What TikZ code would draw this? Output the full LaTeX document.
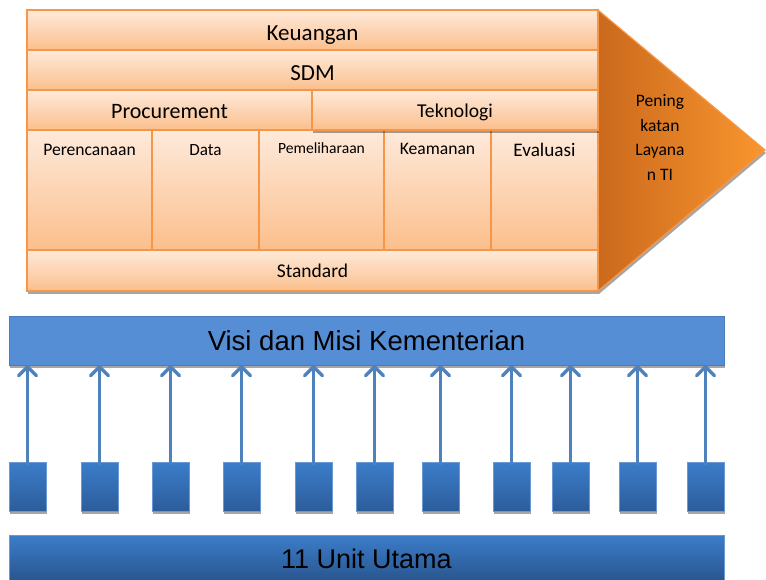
\documentclass[tikz,border=0pt]{standalone}
\usepackage{fontspec}
\usepackage{tikz}
\usetikzlibrary{positioning,arrows.meta,shadows}
\newfontfamily\calibri{Carlito}
\newfontfamily\arial{Liberation Sans}
\definecolor{peachtop}{HTML}{FEEADB}
\definecolor{peachbot}{HTML}{FBBF8C}
\definecolor{orangeline}{HTML}{F79646}
\definecolor{chevdark}{HTML}{CB691D}
\definecolor{chevlight}{HTML}{F9962E}
\definecolor{visiblue}{HTML}{558ED5}
\definecolor{visiline}{HTML}{4A7EBB}
\definecolor{unittop}{HTML}{3C7DCA}
\definecolor{unitbot}{HTML}{2C5D9B}
\definecolor{unitline}{HTML}{6A9AD4}
\definecolor{arrowblue}{HTML}{4F81BD}

\begin{document}
\begin{tikzpicture}[x=1pt, y=-1pt,
  shdw/.style={drop shadow={shadow xshift=1pt, shadow yshift=-3pt, fill=black, opacity=0.35}},
  cell/.style={draw=orangeline, line width=1.2pt, top color=peachtop, bottom color=peachbot,
    anchor=north west, inner sep=0pt, outer sep=0pt, shdw},
  wide/.style={cell, minimum width=571pt},
  col/.style={cell, minimum height=120pt, text height=26pt, text depth=94pt,
    font=\calibri\fontsize{#1}{20}\selectfont},
  unit/.style={draw=unitline, line width=0.8pt, top color=unittop, bottom color=unitbot,
    anchor=north west, inner sep=0pt, outer sep=0pt, minimum width=37pt, minimum height=49pt, shdw},
  arr/.style={draw=arrowblue, line width=3.5pt,
    -{Straight Barb[length=9pt, width=18pt, line width=3.5pt, round]}}]
\useasboundingbox (0,0) rectangle (766,580);

\path[shdw, draw=orangeline, line width=1.2pt, left color=chevdark, right color=chevlight]
  (598,10) -- (765,150) -- (598,291) -- cycle;
\node[font=\calibri\fontsize{17.5}{24.7}\selectfont, align=center] (ting) at (660,137.5)
  {Pening\\katan\\Layana\\n TI};

\node[wide, font=\calibri\fontsize{23}{28}\selectfont, text height=31pt, text depth=9pt] (keu) at (27,10) {Keuangan};
\node[wide, font=\calibri\fontsize{23}{28}\selectfont, text height=31pt, text depth=9pt] (sdm) at (27,50) {SDM};
\node[cell, font=\calibri\fontsize{22}{26}\selectfont, minimum width=285pt, text height=29pt, text depth=11pt] (proc) at (27,90) {Procurement};
\node[col=17.6, minimum width=125pt] (renc) at (27,130) {Perencanaan};
\node[col=17.1, minimum width=107pt] (data) at (152,130) {Data};
\node[col=15.6, minimum width=125pt, text height=24pt, text depth=96pt] (pelihara) at (259,130) {Pemeliharaan};
\node[col=17.6, minimum width=107pt, text height=25pt, text depth=95pt] (aman) at (384,130) {Keamanan};
\node[col=19.2, minimum width=107pt, text height=27pt, text depth=93pt] (eval) at (491,130) {Evaluasi};
\node[cell, font=\calibri\fontsize{19.6}{24}\selectfont, minimum width=286pt, text height=28pt, text depth=12pt] (tek) at (312,90) {Teknologi};
\node[wide, font=\calibri\fontsize{19.5}{24}\selectfont, text height=28pt, text depth=13pt] (std) at (27,250) {Standard};

\node[draw=visiline, fill=visiblue, line width=0.8pt, shdw, anchor=north west, inner sep=0pt, outer sep=0pt,
  minimum width=715pt, minimum height=49pt, font=\arial\fontsize{27.5}{33}\selectfont] (visi) at (9,316)
  {Visi dan Misi Kementerian};
\foreach \x [count=\i] in {9,81,152,223,295,356,422,493,552,619,687} {
  \node[unit] (u\i) at (\x,462) {};
  \draw[arr] ([yshift=-3pt]u\i.north) -- (u\i.north |- visi.south);
}
\node[unit, minimum width=715pt, minimum height=48pt, bottom color=unitbot!90!black,
  font=\arial\fontsize{27}{32}\selectfont] (utama) at (9,535) {11 Unit Utama};
\end{tikzpicture}
\end{document}
